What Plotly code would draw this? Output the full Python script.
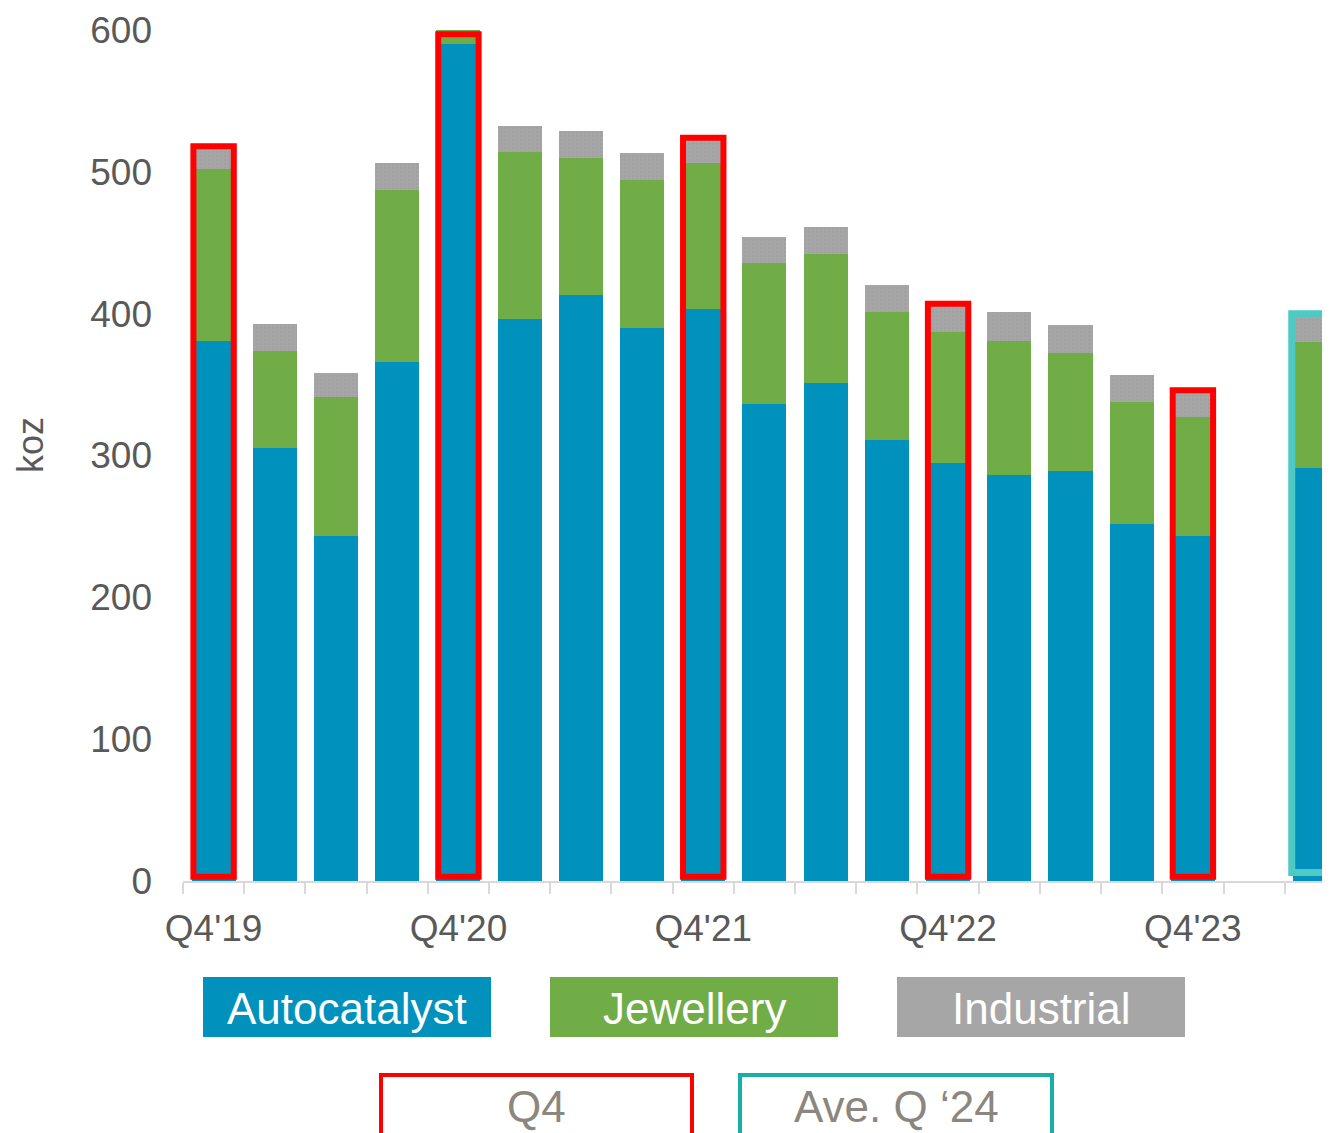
import plotly.graph_objects as go

categories = ["Q4'19", "Q1'20", "Q2'20", "Q3'20", "Q4'20", "Q1'21", "Q2'21", "Q3'21",
              "Q4'21", "Q1'22", "Q2'22", "Q3'22", "Q4'22", "Q1'23", "Q2'23", "Q3'23",
              "Q4'23", "", "Ave. Q '24"]
autocatalyst = [381, 305, 243, 366, 590, 396, 413, 390, 403, 336, 351, 311, 295, 286, 289, 252, 243, None, 291]
jewellery = [121, 69, 98, 121, 12, 118, 97, 104, 103, 100, 91, 90, 92, 95, 83, 86, 84, None, 89]
industrial = [15, 19, 17, 19, 15, 18, 19, 19, 17, 18, 19, 19, 19, 20, 20, 19, 18, None, 18]

BLUE = "#0091bd"
GREEN = "#70ad47"
GRAY = "#a6a6a6"
RED = "#ff0000"
CYAN = "#4ec9c4"
TEAL = "#17aea8"
TXT = "#595959"
LEGTXT = "#8b877e"
FONT = "Liberation Sans, Arial, sans-serif"

x = list(range(len(categories)))
BW = 0.72

fig = go.Figure()
fig.add_bar(x=x, y=autocatalyst, marker=dict(color=BLUE, line=dict(width=0)), width=BW, name="Autocatalyst")
fig.add_bar(x=x, y=jewellery, marker=dict(color=GREEN, line=dict(width=0)), width=BW, name="Jewellery")
fig.add_bar(x=x, y=industrial, width=BW, name="Industrial",
            marker=dict(color=GRAY, line=dict(width=0),
                        pattern=dict(shape=".", bgcolor=GRAY, fgcolor="#999999", size=4, solidity=0.25)))

# Highlight outlines
totals = [None if a is None else a + j + i for a, j, i in zip(autocatalyst, jewellery, industrial)]
shapes = []
for k, c in enumerate(categories):
    if c.startswith("Q4"):
        shapes.append(dict(type="rect", xref="x", yref="y", x0=k - 0.33, x1=k + 0.33,
                           y0=3, y1=min(totals[k] + 1, 597),
                           line=dict(color=RED, width=6), fillcolor="rgba(0,0,0,0)", layer="above"))
ave = len(categories) - 1
shapes.append(dict(type="rect", xref="x", yref="y", x0=ave - 0.385, x1=ave + 0.5,
                   y0=6, y1=totals[ave] + 2,
                   line=dict(color=CYAN, width=7), fillcolor="rgba(0,0,0,0)", layer="above"))

# The page adds an 8px body margin; work in screen pixels and shift.
OFF = 8
L, R, T, B = 183 - OFF, 1330 - OFF, 30 - OFF, 881 - OFF
def px(v):
    return (v - OFF - L) / (R - L)
def py(v):
    return (B - (v - OFF)) / (B - T)

annotations = []
legend1 = [("Autocatalyst", BLUE, 203, 491), ("Jewellery", GREEN, 550, 838), ("Industrial", GRAY, 897, 1185)]
for name, col, a, b in legend1:
    shapes.append(dict(type="rect", xref="paper", yref="paper", x0=px(a), x1=px(b), y0=py(1037), y1=py(977),
                       fillcolor=col, line=dict(width=0), layer="above"))
    annotations.append(dict(xref="paper", yref="paper", x=px((a + b) / 2), y=py(1008), text=name,
                            showarrow=False, xanchor="center", yanchor="middle",
                            font=dict(family=FONT, size=44, color="white")))
legend2 = [("Q4", RED, 381, 692), ("Ave. Q \u201824", TEAL, 740, 1052)]
for name, col, a, b in legend2:
    shapes.append(dict(type="rect", xref="paper", yref="paper", x0=px(a), x1=px(b), y0=py(1140), y1=py(1075),
                       fillcolor="white", line=dict(color=col, width=4), layer="above"))
    annotations.append(dict(xref="paper", yref="paper", x=px((a + b) / 2), y=py(1106), text=name,
                            showarrow=False, xanchor="center", yanchor="middle",
                            font=dict(family=FONT, size=44, color=LEGTXT)))

annotations.append(dict(xref="paper", yref="paper", x=px(30), y=py(445), text="koz", textangle=-90,
                        showarrow=False, xanchor="center", yanchor="middle",
                        font=dict(family=FONT, size=36, color=TXT)))

q4_idx = [k for k, c in enumerate(categories) if c.startswith("Q4")]

fig.update_layout(
    barmode="stack",
    width=1330, height=1133,
    margin=dict(l=L, r=1330 - R, t=T, b=1133 - B),
    paper_bgcolor="white", plot_bgcolor="white",
    showlegend=False,
    shapes=shapes,
    annotations=annotations,
    font=dict(family=FONT, color=TXT),
    xaxis=dict(range=[-0.5, 18.24], tickmode="array", tickvals=q4_idx,
               ticktext=[categories[k] for k in q4_idx], ticks="",
               tickfont=dict(family=FONT, size=37, color=TXT),
               showgrid=False, zeroline=False, showline=True, linecolor="#d9d9d9", linewidth=2,
               ticklabelstandoff=14, automargin=False,
               minor=dict(ticks="outside", tick0=-0.5, dtick=1, ticklen=11, tickcolor="#d9d9d9",
                          tickwidth=2, showgrid=False)),
    yaxis=dict(range=[0, 600], tickvals=[0, 100, 200, 300, 400, 500, 600],
               tickfont=dict(family=FONT, size=37, color=TXT),
               showgrid=False, zeroline=False, showline=False, ticks="",
               ticklabelstandoff=30, automargin=False),
)

fig.write_html("out.html")
